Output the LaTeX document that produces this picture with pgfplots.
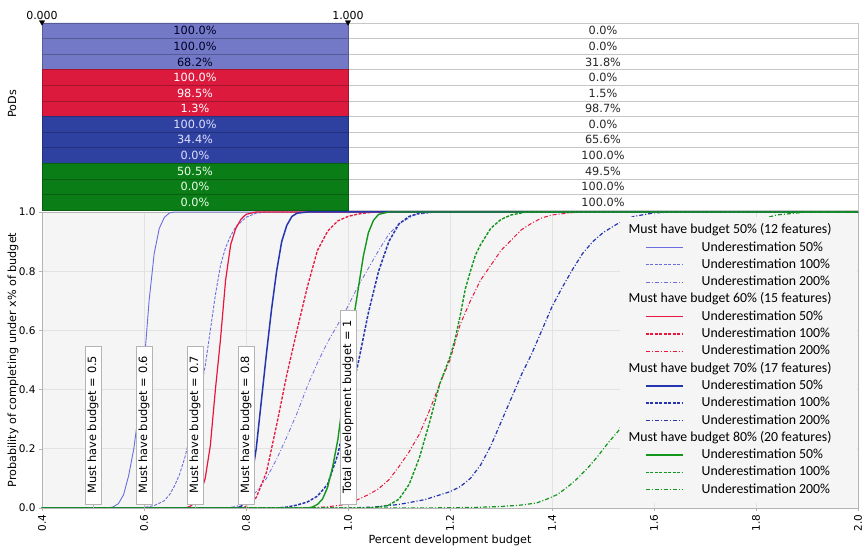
\documentclass[border=0pt]{standalone}
\usepackage{pgfplots}
\pgfplotsset{compat=1.18}
\usepackage{fontspec}
\setmainfont{DejaVu Sans}
\newfontfamily\legfont{Carlito}
\definecolor{cLB}{HTML}{7479C7}
\definecolor{cRD}{HTML}{DC1A3E}
\definecolor{cDB}{HTML}{2E41A1}
\definecolor{cGR}{HTML}{0B7D17}
\definecolor{lLB}{HTML}{6C6CE0}
\definecolor{lRD}{HTML}{E8163E}
\definecolor{lDB}{HTML}{2535B0}
\definecolor{lGR}{HTML}{12961C}
\definecolor{plotbg}{HTML}{F5F5F5}
\definecolor{gridc}{HTML}{E2E2E2}
\definecolor{framec}{HTML}{B4B4B4}
\newcommand{\fs}[1]{\fontsize{#1}{#1}\selectfont}
\pgfplotsset{
  u50/.style={solid, line width=1.2pt},
  u100/.style={dash pattern=on 3pt off 1.5pt, line width=1.3pt},
  u200/.style={dash pattern=on 4pt off 2pt on 1pt off 2pt, line width=1pt},
}
\begin{document}
\begin{tikzpicture}[x=1pt,y=1pt]
\path[use as bounding box] (0,0) rectangle (863,549);
% ---------------- top panel (PoDs table) ----------------
\begin{axis}[
  at={(42pt,339pt)}, anchor=south west,
  scale only axis, width=816pt, height=187pt,
  xmin=0, xmax=2.6667, ymin=0.5, ymax=12.5,
  axis line style={draw=none},
  xtick={0,1}, xticklabels={0.000,1.000},
  xticklabel pos=top, major tick length=0pt,
  xticklabel style={font=\fs{11}},
  ytick=\empty,
  clip=false,
  ylabel={PoDs},
  every axis y label/.style={at={(axis description cs:0,0.567)}, xshift=-30pt, rotate=90, anchor=center, font=\fs{11.2}},
]
\addplot[xbar, bar width=1, bar shift=0pt, fill=white, draw=gray!45, line width=0.6pt] coordinates {(2.6667,1)(2.6667,2)(2.6667,3)(2.6667,4)(2.6667,5)(2.6667,6)(2.6667,7)(2.6667,8)(2.6667,9)(2.6667,10)(2.6667,11)(2.6667,12)};
\addplot[xbar, bar width=1, bar shift=0pt, fill=cLB, draw=cLB!75!black, line width=0.6pt] coordinates {(1,10)(1,11)(1,12)};
\addplot[xbar, bar width=1, bar shift=0pt, fill=cRD, draw=cRD!75!black, line width=0.6pt] coordinates {(1,7)(1,8)(1,9)};
\addplot[xbar, bar width=1, bar shift=0pt, fill=cDB, draw=cDB!75!black, line width=0.6pt] coordinates {(1,4)(1,5)(1,6)};
\addplot[xbar, bar width=1, bar shift=0pt, fill=cGR, draw=cGR!75!black, line width=0.6pt] coordinates {(1,1)(1,2)(1,3)};
\addplot[only marks, mark=triangle*, mark size=3pt, mark options={rotate=180, fill=black, draw=black}] coordinates {(0,12.55)(1,12.55)};
% texts of the left column
\addplot[draw=none, nodes near coords={\pgfplotspointmeta\%}, point meta=explicit symbolic,
  every node near coord/.append style={anchor=center, font=\fs{11.3}, text=black!85!blue}] table[meta=t] {
x y t
0.5 12 100.0
0.5 11 100.0
0.5 10 68.2
};
\addplot[draw=none, nodes near coords={\pgfplotspointmeta\%}, point meta=explicit symbolic,
  every node near coord/.append style={anchor=center, font=\fs{11.3}, text=white}] table[meta=t] {
x y t
0.5 9 100.0
0.5 8 98.5
0.5 7 1.3
};
\addplot[draw=none, nodes near coords={\pgfplotspointmeta\%}, point meta=explicit symbolic,
  every node near coord/.append style={anchor=center, font=\fs{11.3}, text=white!88!blue}] table[meta=t] {
x y t
0.5 6 100.0
0.5 5 34.4
0.5 4 0.0
};
\addplot[draw=none, nodes near coords={\pgfplotspointmeta\%}, point meta=explicit symbolic,
  every node near coord/.append style={anchor=center, font=\fs{11.3}, text=white!92!green}] table[meta=t] {
x y t
0.5 3 50.5
0.5 2 0.0
0.5 1 0.0
};
% texts of the right column
\addplot[draw=none, nodes near coords={\pgfplotspointmeta\%}, point meta=explicit symbolic,
  every node near coord/.append style={anchor=center, font=\fs{11.3}, text=black!85}] table[meta=t] {
x y t
1.8333 12 0.0
1.8333 11 0.0
1.8333 10 31.8
1.8333 9 0.0
1.8333 8 1.5
1.8333 7 98.7
1.8333 6 0.0
1.8333 5 65.6
1.8333 4 100.0
1.8333 3 49.5
1.8333 2 100.0
1.8333 1 100.0
};
\end{axis}
% ---------------- lower panel (CDF curves) ----------------
\begin{axis}[
  at={(42pt,41pt)}, anchor=south west,
  scale only axis, width=816pt, height=296pt,
  xmin=0.4, xmax=2.0, ymin=0, ymax=1,
  xtick={0.4,0.6,0.8,1.0,1.2,1.4,1.6,1.8,2.0},
  ytick={0,0.2,0.4,0.6,0.8,1.0},
  /pgf/number format/fixed, /pgf/number format/fixed zerofill,
  /pgf/number format/precision=1, /pgf/number format/assume math mode=true,
  xticklabel style={rotate=90, anchor=east, font=\fs{10.5}},
  yticklabel style={font=\fs{10.5}},
  grid=major, grid style={gridc, line width=0.6pt},
  axis background/.style={fill=plotbg},
  axis line style={framec},
  tick style={framec},
  tick align=outside, major tick length=3pt, tick pos=left,
  xlabel={Percent development budget},
  ylabel={Probability of completing under x\% of budget},
  every axis x label/.style={at={(axis description cs:0.5,0)}, anchor=center, yshift=-32pt, font=\fs{11.2}},
  every axis y label/.style={at={(axis description cs:0,0.5)}, xshift=-29pt, rotate=90, anchor=center, font=\fs{11.2}},
  legend style={at={(rel axis cs:0.7083,0.983)}, anchor=north west, fill=plotbg, draw=none,
     font=\legfont\fs{13.8}, inner xsep=25pt, inner ysep=6.5pt, row sep=4.3pt, column sep=18pt,
     nodes={inner xsep=0pt, inner ysep=0pt, text height=10pt, text depth=3pt}},
  legend cell align=left,
  legend image code/.code={\draw[#1] (0pt,0pt) -- (37pt,0pt);},
]
% group 50%
\addlegendimage{empty legend}\addlegendentry{\hspace*{-73pt}Must have budget 50\% (12 features)}
\addplot[lLB, u50, line width=0.9pt] coordinates {(0.4,0)(0.53,0)(0.54,0.004)(0.55,0.015)(0.56,0.045)(0.57,0.11)(0.58,0.20)(0.59,0.33)(0.60,0.48)(0.61,0.70)(0.62,0.86)(0.63,0.945)(0.64,0.982)(0.65,0.997)(0.66,1)(2.0,1)};
\addlegendentry{Underestimation 50\%}
\addplot[lLB, u100, line width=0.9pt] coordinates {(0.4,0)(0.59,0)(0.60,0.002)(0.62,0.008)(0.64,0.025)(0.65,0.045)(0.66,0.075)(0.67,0.115)(0.68,0.17)(0.69,0.24)(0.70,0.31)(0.71,0.39)(0.72,0.48)(0.73,0.60)(0.74,0.72)(0.75,0.82)(0.76,0.88)(0.77,0.92)(0.78,0.95)(0.80,0.982)(0.82,0.996)(0.84,1)(2.0,1)};
\addlegendentry{Underestimation 100\%}
\addplot[lLB, u200, line width=0.8pt] coordinates {(0.4,0)(0.76,0)(0.78,0.005)(0.80,0.022)(0.82,0.055)(0.84,0.10)(0.86,0.165)(0.88,0.24)(0.90,0.32)(0.92,0.41)(0.94,0.49)(0.96,0.56)(0.98,0.62)(1.00,0.682)(1.02,0.75)(1.04,0.81)(1.06,0.87)(1.08,0.925)(1.10,0.96)(1.13,0.99)(1.17,1)(2.0,1)};
\addlegendentry{Underestimation 200\%}
% group 60%
\addlegendimage{empty legend}\addlegendentry{\hspace*{-73pt}Must have budget 60\% (15 features)}
\addplot[lRD, u50] coordinates {(0.4,0)(0.68,0)(0.69,0.005)(0.70,0.018)(0.71,0.045)(0.72,0.10)(0.73,0.21)(0.74,0.40)(0.75,0.57)(0.76,0.77)(0.77,0.89)(0.78,0.945)(0.79,0.975)(0.80,0.992)(0.82,1)(2.0,1)};
\addlegendentry{Underestimation 50\%}
\addplot[lRD, u100] coordinates {(0.4,0)(0.79,0)(0.80,0.005)(0.82,0.035)(0.84,0.12)(0.86,0.28)(0.88,0.45)(0.90,0.60)(0.92,0.745)(0.94,0.87)(0.96,0.935)(0.98,0.97)(1.00,0.985)(1.02,0.993)(1.05,1)(2.0,1)};
\addlegendentry{Underestimation 100\%}
\addplot[lRD, u200] coordinates {(0.4,0)(0.92,0)(0.96,0.004)(1.00,0.013)(1.04,0.045)(1.06,0.065)(1.08,0.095)(1.10,0.14)(1.12,0.19)(1.14,0.25)(1.16,0.33)(1.18,0.42)(1.20,0.50)(1.22,0.62)(1.24,0.70)(1.26,0.77)(1.28,0.82)(1.30,0.87)(1.32,0.905)(1.34,0.94)(1.36,0.962)(1.38,0.98)(1.40,0.99)(1.44,0.998)(1.48,1)(2.0,1)};
\addlegendentry{Underestimation 200\%}
% group 70%
\addlegendimage{empty legend}\addlegendentry{\hspace*{-73pt}Must have budget 70\% (17 features)}
\addplot[lDB, u50, line width=1.5pt] coordinates {(0.4,0)(0.78,0)(0.79,0.005)(0.80,0.03)(0.81,0.09)(0.82,0.20)(0.83,0.36)(0.84,0.52)(0.85,0.67)(0.86,0.80)(0.87,0.90)(0.88,0.955)(0.89,0.985)(0.90,0.996)(0.92,1)(2.0,1)};
\addlegendentry{Underestimation 50\%}
\addplot[lDB, u100, line width=1.5pt] coordinates {(0.4,0)(0.86,0)(0.88,0.003)(0.90,0.01)(0.92,0.02)(0.94,0.04)(0.96,0.08)(0.98,0.18)(1.00,0.344)(1.02,0.49)(1.04,0.66)(1.06,0.80)(1.08,0.90)(1.10,0.96)(1.12,0.985)(1.14,0.996)(1.17,1)(2.0,1)};
\addlegendentry{Underestimation 100\%}
\addplot[lDB, u200, line width=1.2pt] coordinates {(0.4,0)(1.00,0)(1.05,0.003)(1.10,0.012)(1.15,0.028)(1.20,0.055)(1.22,0.072)(1.24,0.10)(1.26,0.145)(1.28,0.21)(1.30,0.29)(1.32,0.37)(1.34,0.45)(1.36,0.52)(1.38,0.60)(1.40,0.68)(1.42,0.745)(1.44,0.805)(1.46,0.86)(1.48,0.90)(1.50,0.93)(1.53,0.962)(1.56,0.985)(1.60,0.997)(1.64,1)(2.0,1)};
\addlegendentry{Underestimation 200\%}
% group 80%
\addlegendimage{empty legend}\addlegendentry{\hspace*{-73pt}Must have budget 80\% (20 features)}
\addplot[lGR, u50, line width=1.4pt] coordinates {(0.4,0)(0.92,0)(0.93,0.003)(0.94,0.012)(0.95,0.03)(0.96,0.07)(0.97,0.14)(0.98,0.23)(0.99,0.36)(1.00,0.505)(1.01,0.63)(1.02,0.74)(1.03,0.85)(1.04,0.93)(1.05,0.972)(1.06,0.992)(1.08,1)(2.0,1)};
\addlegendentry{Underestimation 50\%}
\addplot[lGR, u100, line width=1.4pt] coordinates {(0.4,0)(1.04,0)(1.06,0.003)(1.08,0.01)(1.10,0.03)(1.12,0.08)(1.14,0.17)(1.16,0.29)(1.18,0.42)(1.20,0.51)(1.21,0.57)(1.22,0.65)(1.23,0.74)(1.24,0.80)(1.25,0.855)(1.26,0.89)(1.28,0.945)(1.30,0.975)(1.32,0.99)(1.35,1)(2.0,1)};
\addlegendentry{Underestimation 100\%}
\addplot[lGR, u200, line width=1.2pt] coordinates {(0.4,0)(1.15,0)(1.25,0.002)(1.30,0.005)(1.34,0.01)(1.37,0.017)(1.39,0.03)(1.41,0.045)(1.43,0.07)(1.45,0.10)(1.47,0.135)(1.49,0.175)(1.51,0.22)(1.53,0.26)(1.56,0.35)(1.60,0.48)(1.64,0.61)(1.68,0.73)(1.72,0.84)(1.76,0.92)(1.80,0.97)(1.84,0.99)(1.90,1)(2.0,1)};
\addlegendentry{Underestimation 200\%}
% annotation boxes
\draw[framec] (axis cs:0.5,0) -- (axis cs:0.5,0.0135);
\draw[framec] (axis cs:0.6,0) -- (axis cs:0.6,0.0135);
\draw[framec] (axis cs:0.7,0) -- (axis cs:0.7,0.0135);
\draw[framec] (axis cs:0.8,0) -- (axis cs:0.8,0.0135);
\draw[framec] (axis cs:1.0,0) -- (axis cs:1.0,0.0135);
\node[draw=framec, fill=white, rotate=90, anchor=west, inner xsep=10pt, inner ysep=2.3pt, font=\fs{11.4}] at (axis cs:0.5,0.0135) {Must have budget = 0.5};
\node[draw=framec, fill=white, rotate=90, anchor=west, inner xsep=10pt, inner ysep=2.3pt, font=\fs{11.4}] at (axis cs:0.6,0.0135) {Must have budget = 0.6};
\node[draw=framec, fill=white, rotate=90, anchor=west, inner xsep=10pt, inner ysep=2.3pt, font=\fs{11.4}] at (axis cs:0.7,0.0135) {Must have budget = 0.7};
\node[draw=framec, fill=white, rotate=90, anchor=west, inner xsep=10pt, inner ysep=2.3pt, font=\fs{11.4}] at (axis cs:0.8,0.0135) {Must have budget = 0.8};
\node[draw=framec, fill=white, rotate=90, anchor=west, inner xsep=10pt, inner ysep=2.3pt, font=\fs{11.4}] at (axis cs:1.0,0.0135) {Total development budget = 1};
\end{axis}
\end{tikzpicture}
\end{document}
